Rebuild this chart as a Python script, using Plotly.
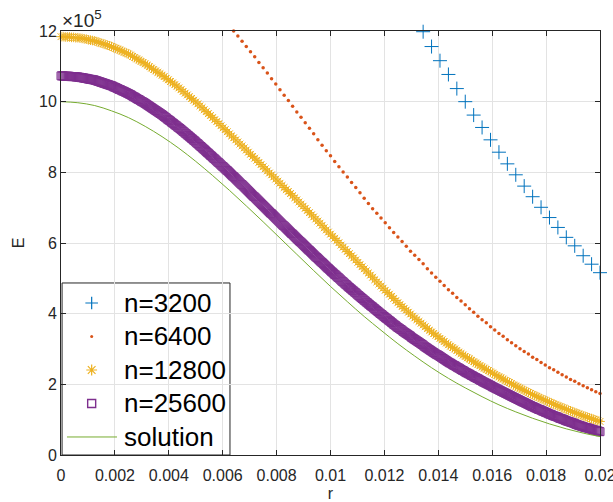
import numpy as np
import plotly.graph_objects as go

# radial grid spacing of each run (r in [0, 0.02])
R_MAX = 0.02
STEP_3200 = R_MAX / 64
STEP_6400 = R_MAX / 128
STEP_12800 = R_MAX / 256
STEP_25600 = R_MAX / 512
STEP_EXACT = R_MAX / 32

# E values in units of 1e5 (points above the top of the axes are left out)
e_3200 = [11.98, 11.56, 11.16, 10.77, 10.37, 10.00, 9.62, 9.27, 8.92, 8.57, 8.24,
          7.93, 7.61, 7.31, 7.01, 6.72, 6.44, 6.16, 5.92, 5.64, 5.40, 5.16]
i0_3200 = 43

e_6400 = [12.00, 11.86, 11.71, 11.56, 11.41, 11.27, 11.11, 10.96, 10.81, 10.65,
          10.50, 10.34, 10.18, 10.03, 9.87, 9.71, 9.56, 9.40, 9.25, 9.09,
          8.92, 8.77, 8.61, 8.47, 8.31, 8.16, 8.01, 7.87, 7.71, 7.57,
          7.42, 7.27, 7.12, 6.97, 6.84, 6.71, 6.57, 6.43, 6.30, 6.17,
          6.04, 5.91, 5.77, 5.65, 5.53, 5.41, 5.27, 5.15, 5.03, 4.92,
          4.80, 4.68, 4.58, 4.46, 4.36, 4.25, 4.14, 4.04, 3.93, 3.83,
          3.74, 3.63, 3.54, 3.44, 3.36, 3.26, 3.18, 3.09, 3.01, 2.93,
          2.86, 2.77, 2.70, 2.62, 2.55, 2.47, 2.41, 2.34, 2.27, 2.21,
          2.14, 2.09, 2.02, 1.96, 1.90, 1.85, 1.79, 1.74]
i0_6400 = 41

e_12800 = [
    11.84, 11.84, 11.83, 11.83, 11.83, 11.82, 11.82, 11.81,
    11.81, 11.80, 11.79, 11.78, 11.77, 11.75, 11.74, 11.73,
    11.72, 11.70, 11.68, 11.66, 11.64, 11.62, 11.60, 11.58,
    11.56, 11.53, 11.51, 11.48, 11.46, 11.43, 11.40, 11.38,
    11.35, 11.32, 11.28, 11.25, 11.21, 11.18, 11.14, 11.11,
    11.07, 11.03, 10.99, 10.95, 10.91, 10.87, 10.83, 10.79,
    10.75, 10.71, 10.66, 10.62, 10.57, 10.53, 10.48, 10.44,
    10.39, 10.34, 10.29, 10.24, 10.19, 10.14, 10.09, 10.04,
    9.99, 9.94, 9.88, 9.83, 9.77, 9.72, 9.66, 9.61,
    9.55, 9.49, 9.44, 9.38, 9.32, 9.26, 9.21, 9.15,
    9.09, 9.03, 8.98, 8.92, 8.86, 8.80, 8.75, 8.69,
    8.63, 8.57, 8.51, 8.45, 8.40, 8.34, 8.28, 8.22,
    8.16, 8.10, 8.04, 7.98, 7.93, 7.87, 7.81, 7.75,
    7.69, 7.63, 7.57, 7.51, 7.46, 7.40, 7.34, 7.28,
    7.22, 7.16, 7.10, 7.04, 6.98, 6.92, 6.86, 6.80,
    6.74, 6.68, 6.62, 6.56, 6.50, 6.43, 6.37, 6.31,
    6.25, 6.19, 6.13, 6.07, 6.01, 5.94, 5.88, 5.82,
    5.76, 5.70, 5.64, 5.58, 5.52, 5.45, 5.39, 5.33,
    5.27, 5.21, 5.15, 5.09, 5.03, 4.96, 4.90, 4.84,
    4.78, 4.72, 4.66, 4.60, 4.55, 4.49, 4.43, 4.37,
    4.31, 4.26, 4.20, 4.15, 4.10, 4.04, 3.99, 3.93,
    3.88, 3.83, 3.78, 3.73, 3.68, 3.63, 3.58, 3.53,
    3.48, 3.44, 3.39, 3.35, 3.30, 3.26, 3.21, 3.17,
    3.12, 3.08, 3.04, 3.00, 2.96, 2.91, 2.87, 2.83,
    2.79, 2.75, 2.72, 2.68, 2.64, 2.60, 2.57, 2.53,
    2.49, 2.46, 2.42, 2.39, 2.35, 2.32, 2.28, 2.25,
    2.21, 2.18, 2.15, 2.11, 2.08, 2.05, 2.02, 1.98,
    1.95, 1.92, 1.89, 1.86, 1.83, 1.80, 1.77, 1.74,
    1.71, 1.68, 1.66, 1.63, 1.60, 1.57, 1.55, 1.52,
    1.49, 1.47, 1.44, 1.42, 1.39, 1.37, 1.34, 1.32,
    1.29, 1.27, 1.25, 1.22, 1.20, 1.18, 1.16, 1.13,
    1.11, 1.09, 1.07, 1.05, 1.03, 1.01, 0.99, 0.97,
    0.95]

e_25600 = [
    10.73, 10.73, 10.73, 10.72, 10.72, 10.72, 10.72, 10.72, 10.72, 10.71, 10.71, 10.71, 10.71, 10.71, 10.70, 10.70,
    10.70, 10.69, 10.69, 10.68, 10.68, 10.67, 10.67, 10.66, 10.66, 10.65, 10.64, 10.64, 10.63, 10.63, 10.62, 10.62,
    10.61, 10.60, 10.59, 10.58, 10.57, 10.56, 10.55, 10.54, 10.53, 10.52, 10.51, 10.50, 10.49, 10.48, 10.47, 10.46,
    10.45, 10.44, 10.42, 10.41, 10.40, 10.38, 10.37, 10.35, 10.34, 10.33, 10.31, 10.30, 10.29, 10.27, 10.26, 10.24,
    10.23, 10.21, 10.20, 10.18, 10.16, 10.14, 10.13, 10.11, 10.09, 10.07, 10.06, 10.04, 10.02, 10.00, 9.99, 9.97,
    9.95, 9.93, 9.91, 9.89, 9.87, 9.85, 9.83, 9.81, 9.79, 9.77, 9.75, 9.73, 9.71, 9.69, 9.67, 9.65,
    9.63, 9.61, 9.58, 9.56, 9.54, 9.51, 9.49, 9.47, 9.45, 9.42, 9.40, 9.38, 9.35, 9.33, 9.31, 9.28,
    9.26, 9.24, 9.21, 9.19, 9.16, 9.14, 9.11, 9.09, 9.06, 9.04, 9.01, 8.99, 8.96, 8.94, 8.91, 8.89,
    8.86, 8.83, 8.81, 8.78, 8.75, 8.73, 8.70, 8.67, 8.65, 8.62, 8.59, 8.56, 8.54, 8.51, 8.48, 8.46,
    8.43, 8.40, 8.38, 8.35, 8.32, 8.29, 8.27, 8.24, 8.21, 8.18, 8.16, 8.13, 8.10, 8.07, 8.05, 8.02,
    7.99, 7.96, 7.93, 7.90, 7.88, 7.85, 7.82, 7.79, 7.76, 7.73, 7.70, 7.67, 7.65, 7.62, 7.59, 7.56,
    7.53, 7.50, 7.47, 7.44, 7.41, 7.38, 7.35, 7.32, 7.30, 7.27, 7.24, 7.21, 7.18, 7.15, 7.12, 7.09,
    7.06, 7.03, 7.00, 6.97, 6.94, 6.91, 6.88, 6.85, 6.83, 6.80, 6.77, 6.74, 6.71, 6.68, 6.65, 6.62,
    6.59, 6.56, 6.53, 6.50, 6.48, 6.45, 6.42, 6.39, 6.36, 6.33, 6.30, 6.27, 6.25, 6.22, 6.19, 6.16,
    6.13, 6.10, 6.07, 6.04, 6.02, 5.99, 5.96, 5.93, 5.90, 5.87, 5.84, 5.81, 5.79, 5.76, 5.73, 5.70,
    5.67, 5.64, 5.61, 5.59, 5.56, 5.53, 5.50, 5.47, 5.45, 5.42, 5.39, 5.36, 5.33, 5.30, 5.28, 5.25,
    5.22, 5.19, 5.17, 5.14, 5.11, 5.09, 5.06, 5.03, 5.01, 4.98, 4.95, 4.92, 4.90, 4.87, 4.84, 4.82,
    4.79, 4.76, 4.74, 4.71, 4.69, 4.66, 4.64, 4.61, 4.59, 4.56, 4.53, 4.51, 4.48, 4.46, 4.43, 4.41,
    4.38, 4.36, 4.33, 4.31, 4.28, 4.26, 4.23, 4.21, 4.19, 4.16, 4.14, 4.11, 4.09, 4.06, 4.04, 4.01,
    3.99, 3.97, 3.94, 3.92, 3.89, 3.87, 3.85, 3.82, 3.80, 3.78, 3.75, 3.73, 3.70, 3.68, 3.66, 3.63,
    3.61, 3.59, 3.57, 3.55, 3.53, 3.50, 3.48, 3.46, 3.44, 3.42, 3.40, 3.38, 3.36, 3.33, 3.31, 3.29,
    3.27, 3.25, 3.23, 3.21, 3.19, 3.17, 3.15, 3.13, 3.11, 3.08, 3.06, 3.04, 3.02, 3.00, 2.98, 2.96,
    2.94, 2.92, 2.90, 2.88, 2.86, 2.84, 2.83, 2.81, 2.79, 2.77, 2.75, 2.73, 2.71, 2.69, 2.67, 2.65,
    2.63, 2.61, 2.60, 2.58, 2.56, 2.54, 2.53, 2.51, 2.49, 2.47, 2.46, 2.44, 2.42, 2.40, 2.39, 2.37,
    2.35, 2.33, 2.32, 2.30, 2.29, 2.27, 2.25, 2.24, 2.22, 2.20, 2.19, 2.17, 2.16, 2.14, 2.12, 2.11,
    2.09, 2.07, 2.06, 2.04, 2.03, 2.01, 2.00, 1.98, 1.97, 1.95, 1.93, 1.92, 1.90, 1.89, 1.87, 1.86,
    1.84, 1.83, 1.81, 1.80, 1.78, 1.77, 1.75, 1.74, 1.72, 1.71, 1.69, 1.68, 1.66, 1.65, 1.63, 1.62,
    1.60, 1.59, 1.57, 1.56, 1.54, 1.53, 1.51, 1.50, 1.49, 1.47, 1.46, 1.44, 1.43, 1.41, 1.40, 1.38,
    1.37, 1.36, 1.34, 1.33, 1.32, 1.30, 1.29, 1.28, 1.27, 1.25, 1.24, 1.23, 1.21, 1.20, 1.19, 1.17,
    1.16, 1.15, 1.14, 1.12, 1.11, 1.10, 1.09, 1.08, 1.07, 1.05, 1.04, 1.03, 1.02, 1.01, 1.00, 0.98,
    0.97, 0.96, 0.95, 0.94, 0.93, 0.92, 0.91, 0.90, 0.89, 0.87, 0.86, 0.85, 0.84, 0.83, 0.82, 0.81,
    0.80, 0.79, 0.78, 0.77, 0.77, 0.76, 0.75, 0.74, 0.73, 0.72, 0.71, 0.70, 0.70, 0.69, 0.68, 0.67,
    0.66]

e_exact = [10.00, 9.97, 9.89, 9.74, 9.55, 9.30, 9.01, 8.68, 8.31, 7.91,
           7.49, 7.05, 6.60, 6.14, 5.68, 5.22, 4.77, 4.34, 3.92, 3.53,
           3.15, 2.80, 2.47, 2.17, 1.90, 1.65, 1.42, 1.22, 1.04, 0.88,
           0.74, 0.62, 0.52]

x_ticks = [0, 0.002, 0.004, 0.006, 0.008, 0.01, 0.012, 0.014, 0.016, 0.018, 0.02]
x_tick_text = ["0", "0.002", "0.004", "0.006", "0.008", "0.01", "0.012",
               "0.014", "0.016", "0.018", "0.02"]
y_ticks = [0, 2, 4, 6, 8, 10, 12]
series_names = ["n=3200", "n=6400", "n=12800", "n=25600", "solution"]

r_3200 = (i0_3200 + np.arange(len(e_3200))) * STEP_3200
r_6400 = (i0_6400 + np.arange(len(e_6400))) * STEP_6400
r_12800 = np.arange(len(e_12800)) * STEP_12800
r_25600 = np.arange(len(e_25600)) * STEP_25600
r_exact = np.arange(len(e_exact)) * STEP_EXACT

BLUE, ORANGE, YELLOW, PURPLE, GREEN = "#0072BD", "#D95319", "#EDB120", "#7E2F8E", "#77AC30"
AX = "#262626"
FONT = "Liberation Sans, Arial, sans-serif"

marker_styles = [
    dict(symbol="cross-thin", size=10, color=BLUE, line=dict(color=BLUE, width=1)),
    dict(symbol="circle", size=3.5, color=ORANGE, line=dict(width=0)),
    dict(symbol="asterisk-open", size=8, color=YELLOW, line=dict(color=YELLOW, width=1)),
    dict(symbol="square-open", size=8, color=PURPLE, line=dict(color=PURPLE, width=1)),
]
# slightly heavier glyphs for the legend entries
legend_styles = [
    dict(symbol="cross-thin", size=9, color=BLUE, line=dict(color=BLUE, width=1.2)),
    dict(symbol="circle", size=3, color=ORANGE, line=dict(width=0)),
    dict(symbol="asterisk-open", size=9, color=YELLOW, line=dict(color=YELLOW, width=1.2)),
    dict(symbol="square-open", size=8, color=PURPLE, line=dict(color=PURPLE, width=1.4)),
]

fig = go.Figure()
for (xs, ys), name, mk in zip([(r_3200, e_3200), (r_6400, e_6400),
                               (r_12800, e_12800), (r_25600, e_25600)],
                              series_names[:4], marker_styles):
    fig.add_trace(go.Scatter(x=xs, y=ys, mode="markers", name=name,
                             cliponaxis=False, marker=mk, showlegend=False))
fig.add_trace(go.Scatter(x=r_exact, y=e_exact, mode="lines", name=series_names[4],
                         line_shape="spline", line=dict(color=GREEN, width=1),
                         showlegend=False))

axis_common = dict(
    showgrid=True, gridcolor="#e3e3e3", gridwidth=1, zeroline=False,
    showline=True, linecolor=AX, linewidth=1, mirror="ticks",
    ticks="inside", ticklen=5, tickcolor=AX, tickwidth=1,
    tickfont=dict(size=16, color=AX, family=FONT),
)
fig.update_xaxes(range=[0, R_MAX], tickvals=x_ticks, ticktext=x_tick_text,
                 ticklabeloverflow="allow", ticklabelstandoff=6,
                 title=dict(text="r", font=dict(size=16, color=AX), standoff=14),
                 **axis_common)
fig.update_yaxes(range=[0, 12], tickvals=y_ticks,
                 title=dict(text="E", font=dict(size=16, color=AX), standoff=10),
                 **axis_common)

# exponent label of the y axis
fig.add_annotation(text="×10<sup>5</sup>", xref="paper", yref="paper", x=0, y=1,
                   xanchor="left", yanchor="bottom", xshift=-1, yshift=-2,
                   showarrow=False, font=dict(size=19, color=AX, family=FONT))

# legend box in the lower-left corner of the axes
LEG_X0, LEG_X1, LEG_Y0, LEG_Y1 = 0.002, 0.3135, 0.0, 0.4057
LEG_TEXT_X, LEG_SYM_X = 0.1126, 0.0569
LEG_ROWS = [0.3585, 0.2795, 0.2005, 0.1215, 0.0425]
fig.add_shape(type="rect", xref="paper", yref="paper", x0=LEG_X0, x1=LEG_X1,
              y0=LEG_Y0, y1=LEG_Y1, line=dict(color=AX, width=1), fillcolor="white",
              layer="between")
for name, yrow in zip(series_names, LEG_ROWS):
    fig.add_annotation(text=name, xref="paper", yref="paper", x=LEG_TEXT_X, y=yrow,
                       xanchor="left", yanchor="middle", showarrow=False,
                       font=dict(size=26, color="#000000", family=FONT))
fig.add_shape(type="line", xref="paper", yref="paper", x0=0.0111, x1=0.1039,
              y0=LEG_ROWS[4], y1=LEG_ROWS[4], line=dict(color=GREEN, width=1),
              layer="above")
# legend glyphs drawn on an overlay axis pair that spans the plot area
for yrow, mk in zip(LEG_ROWS[:4], legend_styles):
    fig.add_trace(go.Scatter(x=[LEG_SYM_X], y=[yrow], mode="markers",
                             xaxis="x2", yaxis="y2", cliponaxis=False,
                             marker=mk, showlegend=False, hoverinfo="skip"))
fig.update_layout(
    xaxis2=dict(overlaying="x", range=[0, 1], visible=False, fixedrange=True),
    yaxis2=dict(overlaying="y", range=[0, 1], visible=False, fixedrange=True),
)

fig.update_layout(
    width=613, height=502,
    margin=dict(l=61, r=13, t=31, b=47, autoexpand=False),
    paper_bgcolor="white", plot_bgcolor="white",
    font=dict(family=FONT, color=AX),
    showlegend=False,
)

fig.write_html("out.html")
